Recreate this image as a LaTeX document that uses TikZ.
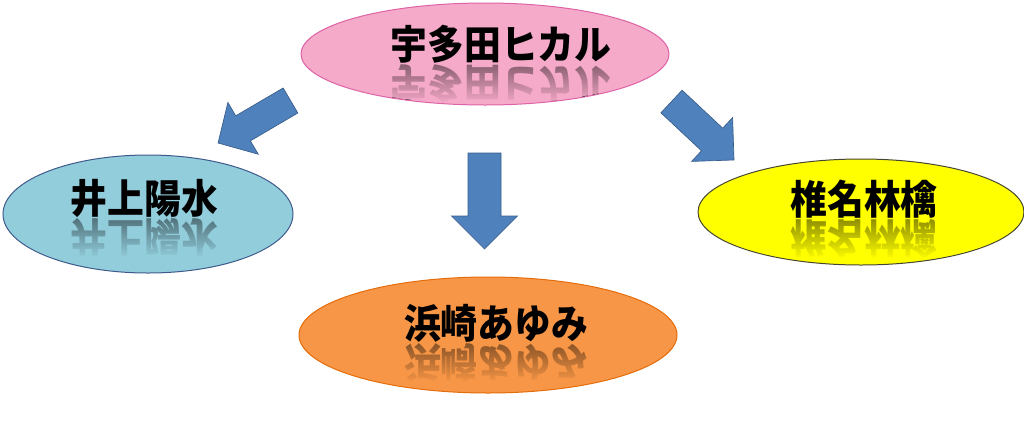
\documentclass[tikz,border=0pt]{standalone}
\usepackage{fontspec}
\newfontfamily\jpfont{Noto Sans CJK JP}
\usetikzlibrary{shapes.geometric}
\usetikzlibrary{fadings}

\definecolor{hikarupink}{RGB}{246,170,201}
\definecolor{yosuiblue}{RGB}{146,205,220}
\definecolor{ringoyellow}{RGB}{255,255,0}
\definecolor{ayumiorange}{RGB}{247,150,70}
\tikzfading[name=reflfade, top color=transparent!100, bottom color=transparent!0]

\begin{document}
\begin{tikzpicture}[x=0.75pt,y=0.75pt,yscale=-1,xscale=1,
  bubble/.style={ellipse, inner sep=0pt, line width=0.75},
  jptext/.style={font=\jpfont\bfseries\fontsize{30}{30}\selectfont, inner sep=0pt, anchor=base, xscale=0.92},
  blockarrow/.style={fill={rgb, 255:red, 79; green, 129; blue, 189}, draw={rgb, 255:red, 56; green, 93; blue, 138}, line width=0.5}]
\useasboundingbox (0,0) rectangle (1024,422);

%Shape: Ellipse
\node [bubble, fill=hikarupink, draw={rgb, 255:red, 221; green, 98; blue, 166}, minimum width=276pt, minimum height=76.5pt] (hikaru) at (485,54) {};
%Shape: Ellipse
\node [bubble, fill=yosuiblue, draw={rgb, 255:red, 63; green, 90; blue, 140}, minimum width=217.5pt, minimum height=88.5pt] (yosui) at (148,214) {};
%Shape: Ellipse
\node [bubble, fill=ringoyellow, draw={rgb, 255:red, 70; green, 70; blue, 50}, minimum width=244.5pt, minimum height=79.5pt] (ringo) at (861,212) {};
%Shape: Ellipse
\node [bubble, fill=ayumiorange, draw={rgb, 255:red, 228; green, 108; blue, 10}, minimum width=283.5pt, minimum height=87pt] (ayumi) at (488,335) {};

%Shape: Down Arrow
\draw [blockarrow, shift={(484.5,153)}, rotate=90] (0,-16.5) -- (63,-16.5) -- (63,-33) -- (96,0) -- (63,33) -- (63,16.5) -- (0,16.5) -- cycle ;
%Shape: Left Down Arrow
\draw [blockarrow, shift={(290.5,100.5)}, rotate=149.6] (0,-14.5) -- (55,-14.5) -- (55,-30) -- (84,0) -- (55,30) -- (55,14.5) -- (0,14.5) -- cycle ;
%Shape: Right Down Arrow
\draw [blockarrow, shift={(671.5,101.5)}, rotate=43.1] (0,-15.5) -- (55.6,-15.5) -- (55.6,-30) -- (85.6,0) -- (55.6,30) -- (55.6,15.5) -- (0,15.5) -- cycle ;

% reflections: mirrored text, then a fading cover in the ellipse colour
\foreach \cx/\bl/\m/\txt/\ex/\ey/\rx/\ry/\col [count=\i] in {501/59.5/64/宇多田ヒカル/485/54/184/51/hikarupink, 144.5/213.5/218/井上陽水/148/214/145/59/yosuiblue, 864/214.5/219/椎名林檎/861/212/163/53/ringoyellow, 496/338.5/343/浜崎あゆみ/488/335/189/58/ayumiorange}{
  \begin{scope}
    \clip (\ex,\ey) ellipse [x radius=\rx-1, y radius=\ry-1];
    \node [jptext, yscale=-1, opacity=0.55] (refl-\i) at (\cx,2*\m-\bl) {\txt};
    \fill [\col, path fading=reflfade] (\cx-130,\m-10) rectangle (\cx+130,\m+40);
  \end{scope}
}

% Text Node
\node [jptext] (hikaru-txt) at (501,59.5) {宇多田ヒカル};
% Text Node
\node [jptext] (yosui-txt) at (144.5,213.5) {井上陽水};
% Text Node
\node [jptext] (ringo-txt) at (864,214.5) {椎名林檎};
% Text Node
\node [jptext] (ayumi-txt) at (496,338.5) {浜崎あゆみ};

\end{tikzpicture}
\end{document}
